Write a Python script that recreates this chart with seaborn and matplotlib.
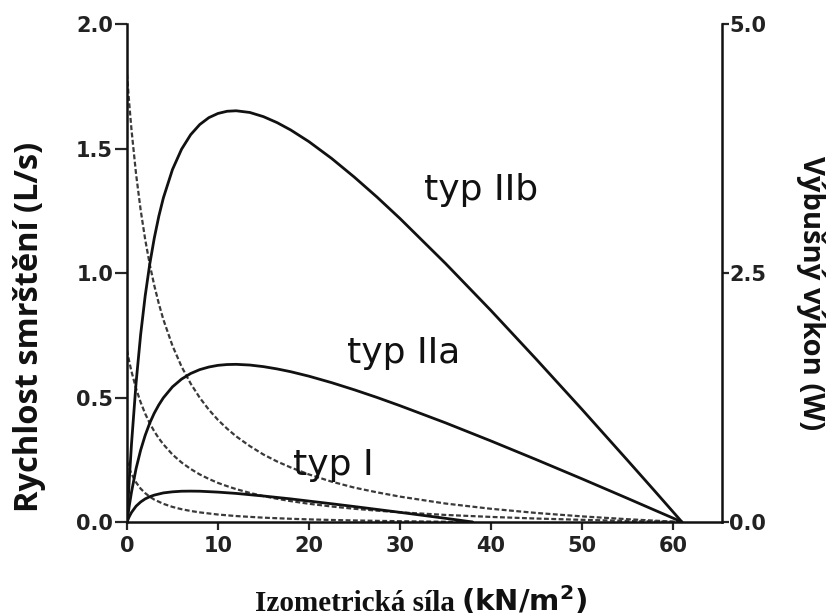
import matplotlib
matplotlib.use("Agg")
import matplotlib.pyplot as plt
import seaborn as sns
import pandas as pd

# --- data ---
force_II = [0, 0.25, 0.5, 1, 1.5, 2, 2.5, 3, 3.5, 4, 5, 6, 7, 8, 9, 10, 11, 12,
            13.5, 15, 16.5, 18, 20, 22.5, 25, 27.5, 30, 35, 40, 45, 50, 55, 58, 60, 61]
vel_IIb = [1.799, 1.680, 1.574, 1.397, 1.254, 1.135, 1.035, 0.950, 0.877, 0.813,
           0.708, 0.624, 0.556, 0.499, 0.451, 0.410, 0.375, 0.344, 0.305, 0.271,
           0.243, 0.219, 0.191, 0.162, 0.138, 0.119, 0.102, 0.0742, 0.0531,
           0.0363, 0.0226, 0.0113, 0.0054, 0.0017, 0.0]
pow_IIb = [0.0, 0.420, 0.787, 1.397, 1.880, 2.270, 2.588, 2.850, 3.070, 3.254,
           3.539, 3.743, 3.889, 3.991, 4.060, 4.102, 4.124, 4.129, 4.112, 4.070,
           4.010, 3.936, 3.819, 3.650, 3.462, 3.261, 3.048, 2.597, 2.124,
           1.633, 1.132, 0.621, 0.312, 0.104, 0.0]
vel_IIa = [0.690, 0.644, 0.604, 0.536, 0.481, 0.435, 0.397, 0.364, 0.336, 0.312,
           0.271, 0.239, 0.213, 0.191, 0.173, 0.157, 0.144, 0.132, 0.117, 0.104,
           0.0932, 0.0838, 0.0732, 0.0622, 0.0531, 0.0455, 0.0389, 0.0284,
           0.0204, 0.0139, 0.0087, 0.0043, 0.0021, 0.0007, 0.0]
pow_IIa = [0.0, 0.161, 0.302, 0.536, 0.721, 0.870, 0.993, 1.093, 1.176, 1.247,
           1.357, 1.435, 1.491, 1.530, 1.556, 1.573, 1.581, 1.583, 1.576, 1.560,
           1.537, 1.509, 1.464, 1.399, 1.327, 1.250, 1.168, 0.996, 0.814,
           0.626, 0.434, 0.238, 0.119, 0.040, 0.0]
force_I = [0, 0.25, 0.5, 1, 1.5, 2, 2.5, 3, 4, 5, 6, 7, 8, 10, 12, 15, 18, 20,
           22.5, 25, 27.5, 30, 32.5, 35, 38]
vel_I = [0.244, 0.216, 0.193, 0.159, 0.134, 0.116, 0.1015, 0.090, 0.073, 0.0606,
         0.0514, 0.0443, 0.0386, 0.0300, 0.0239, 0.0174, 0.0129, 0.0105, 0.0081,
         0.0062, 0.0046, 0.0032, 0.0021, 0.0010, 0.0]
pow_I = [0.0, 0.054, 0.0965, 0.159, 0.201, 0.232, 0.254, 0.270, 0.292, 0.303,
         0.309, 0.310, 0.309, 0.300, 0.287, 0.261, 0.232, 0.210, 0.183, 0.155,
         0.126, 0.097, 0.067, 0.037, 0.0]

x_ticks = [0, 10, 20, 30, 40, 50, 60]
left_ticks = [0.0, 0.5, 1.0, 1.5, 2.0]
right_ticks = [0.0, 2.5, 5.0]
labels = ["typ IIb", "typ IIa", "typ I"]

sns.set_style("ticks")
plt.rcParams["font.family"] = ["DejaVu Sans"]
plt.rcParams["mathtext.fontset"] = "dejavusans"

fig = plt.figure(figsize=(8.31, 6.16), dpi=100)
ax = fig.add_axes([0.1528, 0.1526, 0.716, 0.8084])
ax2 = ax.twinx()

dash_kw = dict(color="#3a3a3a", lw=1.6, dashes=(2.2, 1.1))
solid_kw = dict(color="#111111", lw=2.0)

for f, v in [(force_II, vel_IIb), (force_II, vel_IIa), (force_I, vel_I)]:
    df = pd.DataFrame({"F": f, "v": v})
    sns.lineplot(data=df, x="F", y="v", ax=ax, estimator=None, sort=False, **dash_kw)
for f, p in [(force_II, pow_IIb), (force_II, pow_IIa), (force_I, pow_I)]:
    df = pd.DataFrame({"F": f, "P": p})
    sns.lineplot(data=df, x="F", y="P", ax=ax2, estimator=None, sort=False, **solid_kw)

ax.set_xlim(0, 65.4)
ax.set_ylim(0, 2.0)
ax2.set_ylim(0, 5.0)
ax.set_xticks(x_ticks)
ax.set_yticks(left_ticks)
ax2.set_yticks(right_ticks)
ax.set_xticklabels([str(t) for t in x_ticks])
ax.set_yticklabels([f"{t:.1f}" for t in left_ticks])
ax2.set_yticklabels([f"{t:.1f}" for t in right_ticks])
ax.set_xlabel("")
ax.set_ylabel("")
ax2.set_ylabel("")

for a in (ax, ax2):
    a.spines["top"].set_visible(False)
    for s in a.spines.values():
        s.set_linewidth(1.8)
        s.set_color("#111111")
ax.spines["right"].set_visible(False)
ax2.spines["left"].set_visible(False)
ax2.spines["bottom"].set_visible(False)

ax.tick_params(axis="y", direction="out", length=9, width=1.6, pad=1, labelsize=15)
ax.tick_params(axis="x", direction="out", length=6, width=1.6, pad=4, labelsize=15)
ax2.tick_params(axis="y", direction="out", length=5, width=1.6, pad=0, labelsize=15)
for lab in ax.get_xticklabels() + ax.get_yticklabels() + ax2.get_yticklabels():
    lab.set_fontweight("bold")
    lab.set_color("#222222")

# curve labels
ax.text(32.7, 1.293, labels[0], fontsize=26, ha="left", va="baseline", color="#111111")
ax.text(24.2, 0.639, labels[1], fontsize=26, ha="left", va="baseline", color="#111111")
ax.text(18.2, 0.189, labels[2], fontsize=26, ha="left", va="baseline", color="#111111")

# axis labels
fig.text(30 / 831, 1 - 327 / 616, "Rychlost smrštění (L/s)", rotation=90,
         ha="center", va="center", fontsize=23.5, fontweight="bold",
         family=["Open Sans", "DejaVu Sans"], color="#111111")
fig.text(811 / 831, 1 - 293 / 616, "Výbušný výkon (W)", rotation=270,
         ha="center", va="center", fontsize=21, fontweight="bold",
         family=["Open Sans", "DejaVu Sans"], color="#111111")
fig.text(455 / 831, 1 - 611 / 616, "Izometrická síla", ha="right", va="baseline",
         fontsize=21, fontweight="bold", family=["Liberation Serif", "DejaVu Serif"],
         color="#111111")
fig.text(461 / 831, 1 - 611 / 616, r"(kN/m$^{\mathbf{2}}$)", ha="left", va="baseline",
         fontsize=21, fontweight="bold", family=["DejaVu Sans"], color="#111111")

fig.savefig("out.png", dpi=100)
